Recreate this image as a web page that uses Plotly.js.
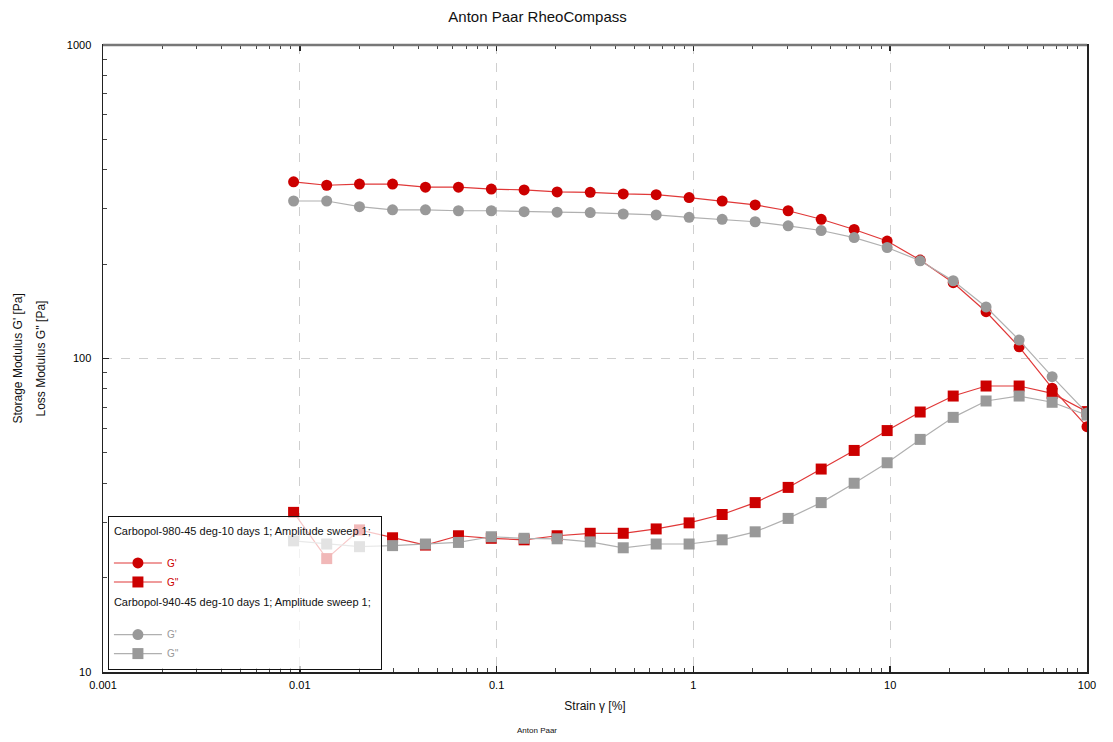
<!DOCTYPE html>
<html>
<head>
<meta charset="utf-8">
<script src="https://cdn.plot.ly/plotly-3.0.1.min.js"></script>
<style>html,body{margin:0;padding:0;background:#fff;}#chart{width:1113px;height:742px;}</style>
</head>
<body>
<div id="chart"></div>
<script>
// Strain gamma [%]
const strain = [0.0093, 0.0137, 0.0201, 0.0296, 0.0435, 0.064, 0.094, 0.138, 0.203, 0.299, 0.44, 0.647, 0.951, 1.4, 2.06, 3.03, 4.46, 6.56, 9.65, 14.2, 20.9, 30.7, 45.2, 66.5, 100];
// Carbopol-980 storage / loss modulus [Pa]
const g1_980 = [366, 357, 360, 360, 352, 352, 347, 345, 340, 339, 335, 333, 326, 318, 309, 296, 278, 258, 237, 206, 174.5, 141, 109, 80.4, 60.6];
const g2_980 = [32.3, 23.0, 28.4, 26.8, 25.4, 27.2, 26.7, 26.4, 27.2, 27.7, 27.7, 28.6, 29.9, 31.8, 34.7, 38.8, 44.4, 50.9, 58.9, 67.5, 75.9, 81.7, 81.7, 77.4, 67.7];
// Carbopol-940 storage / loss modulus [Pa]
const g1_940 = [318, 318, 305, 298, 298, 296, 296, 294, 293, 292, 289, 287, 282, 278, 273, 265, 256, 243, 226, 205, 177, 146, 114.5, 87.5, 67];
const g2_940 = [26.2, 25.6, 25.1, 25.3, 25.6, 25.9, 27.0, 26.7, 26.6, 26.0, 24.9, 25.6, 25.6, 26.4, 28.0, 30.9, 34.7, 40.0, 46.5, 55.2, 64.9, 73.2, 75.9, 72.5, 66.0];

const group980 = "Carbopol-980-45 deg-10 days 1; Amplitude sweep 1;";
const group940 = "Carbopol-940-45 deg-10 days 1; Amplitude sweep 1;";
const xTicks = [0.001, 0.01, 0.1, 1, 10, 100];
const xTickText = ["0.001", "0.01", "0.1", "1", "10", "100"];
const yTicks = [10, 100, 1000];
const yTickText = ["10", "100", "1000"];
const yTitle1 = "Storage Modulus G' [Pa]";
const yTitle2 = "Loss Modulus G'' [Pa]";

const RED = "#cc0000", REDLINE = "#e03838", GRAY = "#999999", GRAYLINE = "#b0b0b0";

function tr(y, name, color, lineColor, symbol, size, group, title) {
  return {
    x: strain, y: y, type: "scatter", mode: "lines+markers",
    name: "<span style='color:" + color + "'>" + name + "</span>",
    line: {color: lineColor, width: 1.2},
    marker: {color: color, symbol: symbol, size: size},
    legendgroup: group,
    legendgrouptitle: {text: title + "<br> ", font: {size: 11, color: "#111"}}
  };
}

const data = [
  tr(g1_980, "G'", RED, REDLINE, "circle", 11, "g980", group980),
  tr(g2_980, "G''", RED, REDLINE, "square", 11, "g980", group980),
  tr(g1_940, "G'", GRAY, GRAYLINE, "circle", 11, "g940", group940),
  tr(g2_940, "G''", GRAY, GRAYLINE, "square", 11, "g940", group940)
];

const axisCommon = {
  type: "log", showline: true, linecolor: "#222", linewidth: 1.5,
  ticks: "inside", ticklen: 6, tickcolor: "#222", tickwidth: 1.5,
  showgrid: true, gridcolor: "#cfcfcf", griddash: "dash", gridwidth: 1,
  zeroline: false, tickfont: {family: "Liberation Sans, Arial", size: 11, color: "#000"},
  minor: {ticks: "inside", ticklen: 4, tickcolor: "#444", tickwidth: 1, dtick: "D1", showgrid: false}
};

const layout = {
  width: 1113, height: 742,
  margin: {l: 103, r: 26, t: 45, b: 70},
  paper_bgcolor: "#fff", plot_bgcolor: "#fff",
  font: {family: "Liberation Sans, Arial", size: 11, color: "#111"},
  title: {text: "Anton Paar RheoCompass", x: 0.483, xanchor: "center", y: 0.977, yanchor: "middle",
          font: {size: 15, color: "#111"}},
  xaxis: Object.assign({}, axisCommon, {
    range: [-3, 2], tickmode: "array", tickvals: xTicks, ticktext: xTickText,
    mirror: "ticks", ticklabelstandoff: 2,
    title: {text: "Strain γ [%]", font: {size: 12}, standoff: 12}
  }),
  yaxis: Object.assign({}, axisCommon, {
    range: [1, 3], tickmode: "array", tickvals: yTicks, ticktext: yTickText,
    mirror: true, ticklabelstandoff: 8,
    title: {text: ""}
  }),
  shapes: [
    {type: "line", xref: "paper", yref: "paper", x0: 0, x1: 1, y0: 1, y1: 1,
     line: {color: "#777", width: 2.5}}
  ],
  showlegend: true,
  legend: {
    x: 0.005, y: 0.249, xanchor: "left", yanchor: "top",
    bgcolor: "rgba(255,255,255,0.72)", bordercolor: "#111", borderwidth: 1,
    font: {size: 10}, tracegroupgap: 2, itemwidth: 48,
    traceorder: "grouped"
  },
  annotations: [
    {text: yTitle1, xref: "paper", yref: "paper", x: -0.0864, y: 0.5, textangle: -90,
     xanchor: "center", yanchor: "middle", showarrow: false, font: {size: 12, color: "#111"}},
    {text: yTitle2, xref: "paper", yref: "paper", x: -0.0640, y: 0.5, textangle: -90,
     xanchor: "center", yanchor: "middle", showarrow: false, font: {size: 12, color: "#111"}},
    {text: "Anton Paar", xref: "paper", yref: "paper", x: 0.441, y: -0.093,
     xanchor: "center", yanchor: "middle", showarrow: false, font: {size: 8, color: "#111"}}
  ]
};

Plotly.newPlot("chart", data, layout, {displayModeBar: false, staticPlot: true});
</script>
</body>
</html>
